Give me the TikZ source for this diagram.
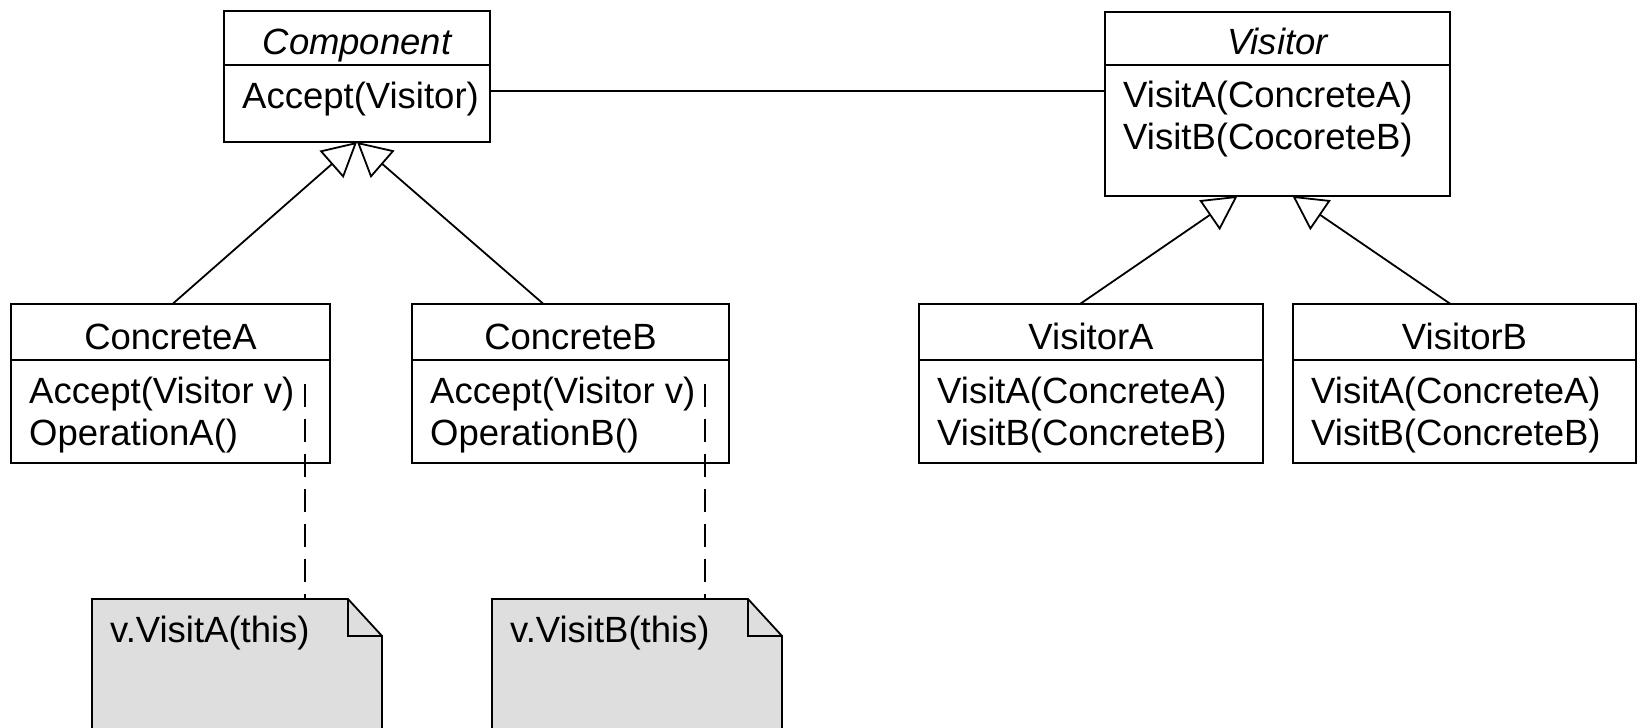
\documentclass[tikz,border=0pt]{standalone}
\usepackage{fontspec}
\setmainfont{Liberation Sans}
\usetikzlibrary{arrows.meta,calc}
\definecolor{notegray}{RGB}{222,222,222}
\begin{document}
\begin{tikzpicture}[x=1pt,y=-1pt,
  lw/.style={line width=1.8pt},
  cls/.style={draw, lw, inner sep=0pt, outer sep=0pt, anchor=north west},
  ttl/.style={font=\fontsize{36.5}{42}\selectfont, anchor=base, inner sep=0pt},
  ittl/.style={font=\fontsize{36.5}{42}\selectfont\itshape, anchor=base, inner sep=0pt},
  mth/.style={font=\fontsize{36.5}{42}\selectfont, anchor=base west, inner sep=0pt},
  gen/.style={lw, -{Triangle[open, length=34pt, width=36pt, line width=1.8pt]}},
  dsh/.style={lw, dash pattern=on 23pt off 12pt},
  notebox/.style={inner sep=0pt, outer sep=0pt, minimum width=290pt, minimum height=140pt, anchor=north west},
  notesh/.style={lw, fill=notegray, line join=miter}
]
\useasboundingbox (0,0) rectangle (1639,728);
\clip (0,0) rectangle (1639,728);
\fill[white] (0,0) rectangle (1639,728);

% Component
\node[cls, minimum width=266pt, minimum height=131pt] (comp) at (224,11) {};
\draw[lw] ($(comp.north west)+(0,54)$) -- ++(266,0);
\node[ittl] (compT) at (357,54) {Component};
\node[mth] (compM1) at (242,108) {Accept(Visitor)};

% Visitor
\node[cls, minimum width=345pt, minimum height=184pt] (vis) at (1105,12) {};
\draw[lw] ($(vis.north west)+(0,53)$) -- ++(345,0);
\node[ittl] (visT) at (1277.5,54) {Visitor};
\node[mth] (visM1) at (1123,107) {VisitA(ConcreteA)};
\node[mth] (visM2) at (1123,149) {VisitB(CocoreteB)};

% ConcreteA
\node[cls, minimum width=319pt, minimum height=159pt] (ca) at (11,304) {};
\draw[lw] ($(ca.north west)+(0,56)$) -- ++(319,0);
\node[ttl] (caT) at (170.5,349) {ConcreteA};
\node[mth] (caM1) at (29,403) {Accept(Visitor v)};
\node[mth] (caM2) at (29,445) {OperationA()};

% ConcreteB
\node[cls, minimum width=317pt, minimum height=159pt] (cb) at (412,304) {};
\draw[lw] ($(cb.north west)+(0,56)$) -- ++(317,0);
\node[ttl] (cbT) at (570.5,349) {ConcreteB};
\node[mth] (cbM1) at (430,403) {Accept(Visitor v)};
\node[mth] (cbM2) at (430,445) {OperationB()};

% VisitorA
\node[cls, minimum width=344pt, minimum height=159pt] (va) at (919,304) {};
\draw[lw] ($(va.north west)+(0,56)$) -- ++(344,0);
\node[ttl] (vaT) at (1091,349) {VisitorA};
\node[mth] (vaM1) at (937,403) {VisitA(ConcreteA)};
\node[mth] (vaM2) at (937,445) {VisitB(ConcreteB)};

% VisitorB
\node[cls, minimum width=343pt, minimum height=159pt] (vb) at (1293,304) {};
\draw[lw] ($(vb.north west)+(0,56)$) -- ++(343,0);
\node[ttl] (vbT) at (1464.5,349) {VisitorB};
\node[mth] (vbM1) at (1311,403) {VisitA(ConcreteA)};
\node[mth] (vbM2) at (1311,445) {VisitB(ConcreteB)};

% association
\draw[lw] ($(comp.north east)+(0,80)$) -- ($(vis.north west)+(0,79)$);

% generalizations
\draw[gen] ($(ca.north)+(2,0)$) -- (comp.south);
\draw[gen] ($(cb.north)+(-27,0)$) -- (comp.south);
\draw[gen] ($(va.north)+(-11,0)$) -- ($(vis.south)+(-40,0)$);
\draw[gen] ($(vb.north)+(-14,0)$) -- ($(vis.south)+(15,0)$);

% notes
\node[notebox] (nA) at (92,599) {};
\draw[notesh] (nA.north west) -- ++(256,0) -- ++(34,37) -- (nA.south east) -- (nA.south west) -- cycle;
\draw[lw] ($(nA.north west)+(256,0)$) -- ++(0,37) -- ++(34,0);
\node[mth] (nAT) at (110,642) {v.VisitA(this)};

\node[notebox] (nB) at (492,599) {};
\draw[notesh] (nB.north west) -- ++(256,0) -- ++(34,37) -- (nB.south east) -- (nB.south west) -- cycle;
\draw[lw] ($(nB.north west)+(256,0)$) -- ++(0,37) -- ++(34,0);
\node[mth] (nBT) at (510,642) {v.VisitB(this)};

% dashed links
\coordinate (dA) at (305,384);
\coordinate (dB) at (705,384);
\draw[dsh] (dA) -- (dA |- nA.north);
\draw[dsh] (dB) -- (dB |- nB.north);
\end{tikzpicture}
\end{document}
